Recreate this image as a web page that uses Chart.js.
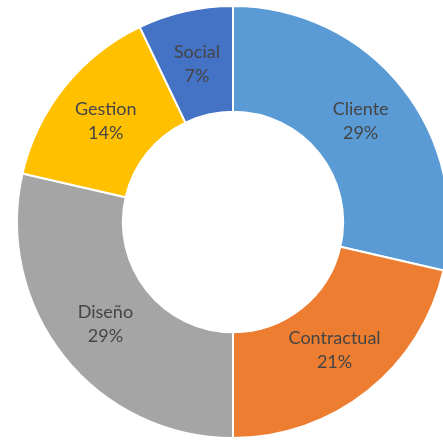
<!DOCTYPE html>
<html>
<head>
<meta charset="utf-8">
<script src="https://cdn.jsdelivr.net/npm/chart.js@4"></script>
<style>
  html, body { margin: 0; padding: 0; background: #fff; overflow: hidden; }
  .wrap { position: absolute; left: 0; top: -11px; width: 466px; height: 466px; }
</style>
</head>
<body>
<div class="wrap"><canvas id="donut"></canvas></div>
<script>
// categories, clockwise from 12 o'clock
const categories = ['Cliente', 'Contractual', 'Diseño', 'Gestion', 'Social'];
const shares = [28.6, 21.4, 28.6, 14.3, 7.1];
const colors = ['#5B9BD5', '#ED7D31', '#A5A5A5', '#FFC000', '#4472C4'];

// draws "name / xx%" in the middle of each ring piece
const sliceLabels = {
  id: 'sliceLabels',
  afterDatasetsDraw(chart) {
    const ctx = chart.ctx;
    const meta = chart.getDatasetMeta(0);
    const data = chart.data.datasets[0].data;
    const total = data.reduce((a, b) => a + b, 0);
    ctx.save();
    ctx.fillStyle = '#454545';
    ctx.font = '18px Lato';
    ctx.textAlign = 'center';
    ctx.textBaseline = 'middle';
    meta.data.forEach((arc, i) => {
      const p = arc.tooltipPosition();
      ctx.fillText(chart.data.labels[i], p.x, p.y - 11);
      ctx.fillText(Math.round(data[i] / total * 100) + '%', p.x, p.y + 13);
    });
    ctx.restore();
  }
};

new Chart(document.getElementById('donut'), {
  type: 'doughnut',
  data: {
    labels: categories,
    datasets: [{
      data: shares,
      backgroundColor: colors,
      borderColor: '#ffffff',
      borderWidth: 2
    }]
  },
  options: {
    responsive: true,
    maintainAspectRatio: false,
    animation: false,
    radius: 216,
    cutout: '51%',
    layout: { padding: 0 },
    plugins: {
      legend: { display: false },
      tooltip: { enabled: false }
    }
  },
  plugins: [sliceLabels]
});
</script>
</body>
</html>
